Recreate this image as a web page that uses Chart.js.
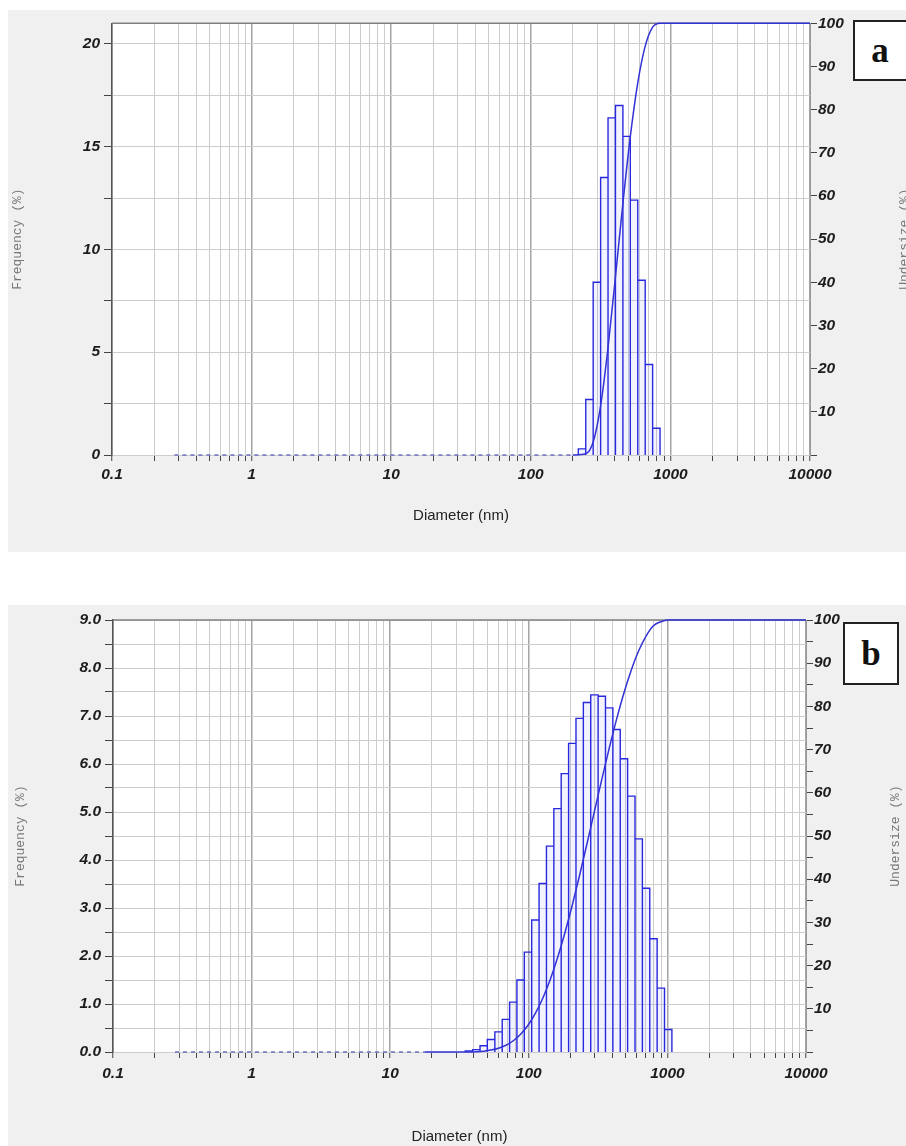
<!DOCTYPE html>
<html><head><meta charset="utf-8">
<script src="https://cdn.jsdelivr.net/npm/chart.js@4.4.1/dist/chart.umd.min.js"></script>
<style>
html,body{margin:0;padding:0;background:#fff;width:906px;height:1146px;overflow:hidden;position:relative;}
.panel{position:absolute;background:#f0f0f0;}
.panel canvas{display:block;}
.tag{position:absolute;background:#fff;border:2px solid #222;font-family:"Liberation Serif","DejaVu Serif",serif;font-weight:bold;font-size:35px;color:#111;display:flex;align-items:center;justify-content:center;box-sizing:border-box;line-height:1;}
</style></head><body>
<div class="panel" style="left:8px;top:10px;width:898px;height:542px;"><canvas id="cA" width="898" height="542"></canvas></div>
<div class="panel" style="left:8px;top:605px;width:898px;height:541px;"><canvas id="cB" width="898" height="541"></canvas></div>
<div class="tag" style="left:853px;top:20px;width:60px;height:61px;padding-right:6px;">a</div>
<div class="tag" style="left:843px;top:622px;width:56px;height:63px;">b</div>
<script>
// ---------- data ----------
const xDecades = [0.1, 1, 10, 100, 1000, 10000];
const xDecadeLabels = ['0.1', '1', '10', '100', '1000', '10000'];

// chart a
const edgesA = [219.0, 247.5, 279.8, 316.3, 357.5, 404.1, 456.8, 516.4, 583.8, 659.9, 746.0, 843.2];
const freqA = [0.3, 2.7, 8.4, 13.5, 16.4, 17.0, 15.5, 12.4, 8.5, 4.4, 1.3];
const undersizeXA = [200, 247.5, 279.8, 316.3, 357.5, 404.1, 456.8, 516.4, 583.8, 659.9, 746.0, 843.2, 10000];
const undersizeA = [0, 0.3, 3.0, 11.4, 24.9, 41.3, 58.3, 73.8, 86.2, 94.7, 99.1, 100, 100];
const zeroLineA = [0.28, 200];
const yGridA = [0, 2.5, 5, 7.5, 10, 12.5, 15, 17.5, 20];
const yLabelsA = [0, 5, 10, 15, 20];

// chart b
const edgesB = [34.8, 39.4, 44.5, 50.2, 56.9, 64.3, 72.7, 82.1, 92.8, 104.9, 118.6, 134.1, 151.6, 171.3, 193.7, 219.0, 247.5, 279.8, 316.3, 357.5, 404.1, 456.8, 516.4, 583.8, 659.9, 746.0, 843.2, 953.2, 1077.5];
const freqB = [0.02, 0.05, 0.13, 0.26, 0.42, 0.68, 1.04, 1.50, 2.08, 2.75, 3.51, 4.29, 5.07, 5.80, 6.43, 6.95, 7.28, 7.44, 7.41, 7.17, 6.72, 6.11, 5.33, 4.44, 3.41, 2.36, 1.33, 0.47];
const undersizeXB = [17.8, 37.0, 41.9, 47.3, 53.4, 60.5, 68.4, 77.3, 87.3, 98.7, 111.5, 126.1, 142.6, 161.2, 182.2, 206.0, 232.8, 263.2, 297.5, 336.3, 380.1, 429.6, 485.7, 549.1, 620.7, 701.6, 793.1, 896.5, 1013.4, 10000];
const undersizeB = [0, 0.02, 0.07, 0.20, 0.46, 0.88, 1.56, 2.60, 4.10, 6.18, 8.93, 12.44, 16.73, 21.80, 27.60, 34.03, 40.98, 48.26, 55.70, 63.11, 70.28, 77.00, 83.11, 88.44, 92.88, 96.29, 98.65, 99.6, 100, 100];
const zeroLineB = [0.28, 17.8];
const yGridB = [0, 0.5, 1, 1.5, 2, 2.5, 3, 3.5, 4, 4.5, 5, 5.5, 6, 6.5, 7, 7.5, 8, 8.5, 9];
const yLabelsB = [0, 1, 2, 3, 4, 5, 6, 7, 8, 9];

const rightGrid = [0, 5, 10, 15, 20, 25, 30, 35, 40, 45, 50, 55, 60, 65, 70, 75, 80, 85, 90, 95, 100];
const rightLabels = [10, 20, 30, 40, 50, 60, 70, 80, 90, 100];

// ---------- helpers ----------
const xGrid = [];
xDecades.forEach((d, i) => {
  xGrid.push(d);
  if (i < xDecades.length - 1) for (let m = 2; m <= 9; m++) xGrid.push(d * m);
});
function isDecade(v) { const l = Math.log10(v); return Math.abs(l - Math.round(l)) < 1e-6; }
function xLabel(v) {
  for (let i = 0; i < xDecades.length; i++) if (Math.abs(v - xDecades[i]) / xDecades[i] < 1e-6) return xDecadeLabels[i];
  return '';
}
function barOutline(edges, freq) {
  const pts = [];
  for (let i = 0; i < freq.length; i++) {
    pts.push({x: edges[i], y: 0}, {x: edges[i], y: freq[i]}, {x: edges[i + 1], y: freq[i]}, {x: edges[i + 1], y: 0});
  }
  return pts;
}
const tickFont = {family: '"Liberation Sans", Arial, sans-serif', size: 15.5, style: 'italic', weight: 'bold'};

const plotBg = {
  id: 'plotBg',
  beforeDraw(chart) {
    const {ctx, chartArea: a} = chart;
    ctx.save(); ctx.fillStyle = '#ffffff'; ctx.fillRect(a.left, a.top, a.right - a.left, a.bottom - a.top); ctx.restore();
  },
  beforeDatasetsDraw(chart) {
    const {ctx, chartArea: a} = chart;
    ctx.save(); ctx.strokeStyle = '#808080'; ctx.lineWidth = 1.5;
    ctx.beginPath(); ctx.moveTo(a.left, a.top); ctx.lineTo(a.right, a.top); ctx.stroke(); ctx.restore();
  }
};
const rightTitle = {
  id: 'rightTitle',
  afterDraw(chart, args, opts) {
    const {ctx, chartArea: a} = chart;
    ctx.save();
    ctx.translate(opts.x, (a.top + a.bottom) / 2);
    ctx.rotate(-Math.PI / 2);
    ctx.font = '13px "Liberation Mono", "Courier New", monospace';
    ctx.fillStyle = '#777';
    ctx.textAlign = 'center'; ctx.textBaseline = 'middle';
    ctx.fillText(opts.text, 0, 0);
    ctx.restore();
  }
};

function makeChart(id, p) {
  const W = p.W, H = p.H;
  return new Chart(document.getElementById(id), {
    type: 'line',
    data: {
      datasets: [
        {label: 'Undersize', data: p.ux.map((x, i) => ({x, y: p.u[i]})), yAxisID: 'y1', borderColor: '#3232d6', borderWidth: 1.5, pointRadius: 0, cubicInterpolationMode: 'monotone', fill: false, clip: false},
        {label: 'zero', data: p.zero.map(x => ({x, y: 0})), yAxisID: 'y', borderColor: '#5050b0', borderWidth: 1.2, borderDash: [4, 4], pointRadius: 0, fill: false, clip: false},
        {label: 'Frequency', data: barOutline(p.edges, p.freq), yAxisID: 'y', borderColor: '#2828de', borderWidth: 1.4, backgroundColor: 'rgba(80,80,255,0.07)', fill: 'origin', pointRadius: 0, tension: 0}
      ]
    },
    options: {
      responsive: false, animation: false, events: [],
      layout: {padding: {top: p.top, left: 0, right: 0, bottom: 0}},
      plugins: {legend: {display: false}, tooltip: {enabled: false}, rightTitle: {x: p.rtX, text: 'Undersize (%)'}},
      scales: {
        x: {
          type: 'logarithmic', position: 'bottom', min: 0.1, max: 10000,
          afterBuildTicks: s => { s.ticks = xGrid.map(v => ({value: v})); },
          afterFit: s => { s.height = H - p.bottom; },
          ticks: {autoSkip: false, maxRotation: 0, minRotation: 0, padding: p.xPad, color: '#1c1c1c', font: tickFont, callback: v => xLabel(v)},
          grid: {color: c => isDecade(c.tick.value) ? '#a4a4a4' : '#cdcdcd', lineWidth: c => isDecade(c.tick.value) ? 1.5 : 1, tickLength: 6, tickColor: '#444', tickWidth: 1},
          border: {display: false},
          title: {display: true, text: 'Diameter (nm)', color: '#222', font: {family: '"Liberation Sans", Arial, sans-serif', size: 15}, padding: {top: 0, bottom: p.xTitlePad}}
        },
        y: {
          type: 'linear', position: 'left', min: 0, max: p.ymax,
          afterBuildTicks: s => { s.ticks = p.yGrid.map(v => ({value: v})); },
          afterFit: s => { s.width = p.left; },
          ticks: {padding: 4, color: '#1c1c1c', font: tickFont, callback: v => p.yLabels.includes(v) ? p.fmt(v) : ''},
          grid: {color: '#cdcdcd', lineWidth: 1, tickLength: 8, tickColor: '#444'},
          border: {display: true, color: '#555', width: 1.5},
          title: {display: true, text: 'Frequency (%)', color: '#777', font: {family: '"Liberation Mono", "Courier New", monospace', size: 13}, padding: {top: p.yTitlePad, bottom: 0}}
        },
        y1: {
          type: 'linear', position: 'right', min: 0, max: 100,
          afterBuildTicks: s => { s.ticks = rightGrid.map(v => ({value: v})); },
          afterFit: s => { s.width = W - p.right; },
          ticks: {padding: 1, color: '#1c1c1c', font: tickFont, callback: v => rightLabels.includes(v) ? String(v) : ''},
          grid: {drawOnChartArea: false, tickLength: 7, tickColor: '#444'},
          border: {display: true, color: '#999', width: 1}
        }
      }
    },
    plugins: [plotBg, rightTitle]
  });
}

makeChart('cA', {W: 898, H: 542, top: 12, bottom: 445, left: 104, right: 802, ymax: 21, yGrid: yGridA, yLabels: yLabelsA, fmt: v => String(v),
  edges: edgesA, freq: freqA, ux: undersizeXA, u: undersizeA, zero: zeroLineA, xPad: 4, xTitlePad: 27, yTitlePad: 2, rtX: 897});
makeChart('cB', {W: 898, H: 541, top: 15, bottom: 447, left: 105, right: 798, ymax: 9, yGrid: yGridB, yLabels: yLabelsB, fmt: v => v.toFixed(1),
  edges: edgesB, freq: freqB, ux: undersizeXB, u: undersizeB, zero: zeroLineB, xPad: 6, xTitlePad: 0, yTitlePad: 5, rtX: 888});
</script>
</body></html>
